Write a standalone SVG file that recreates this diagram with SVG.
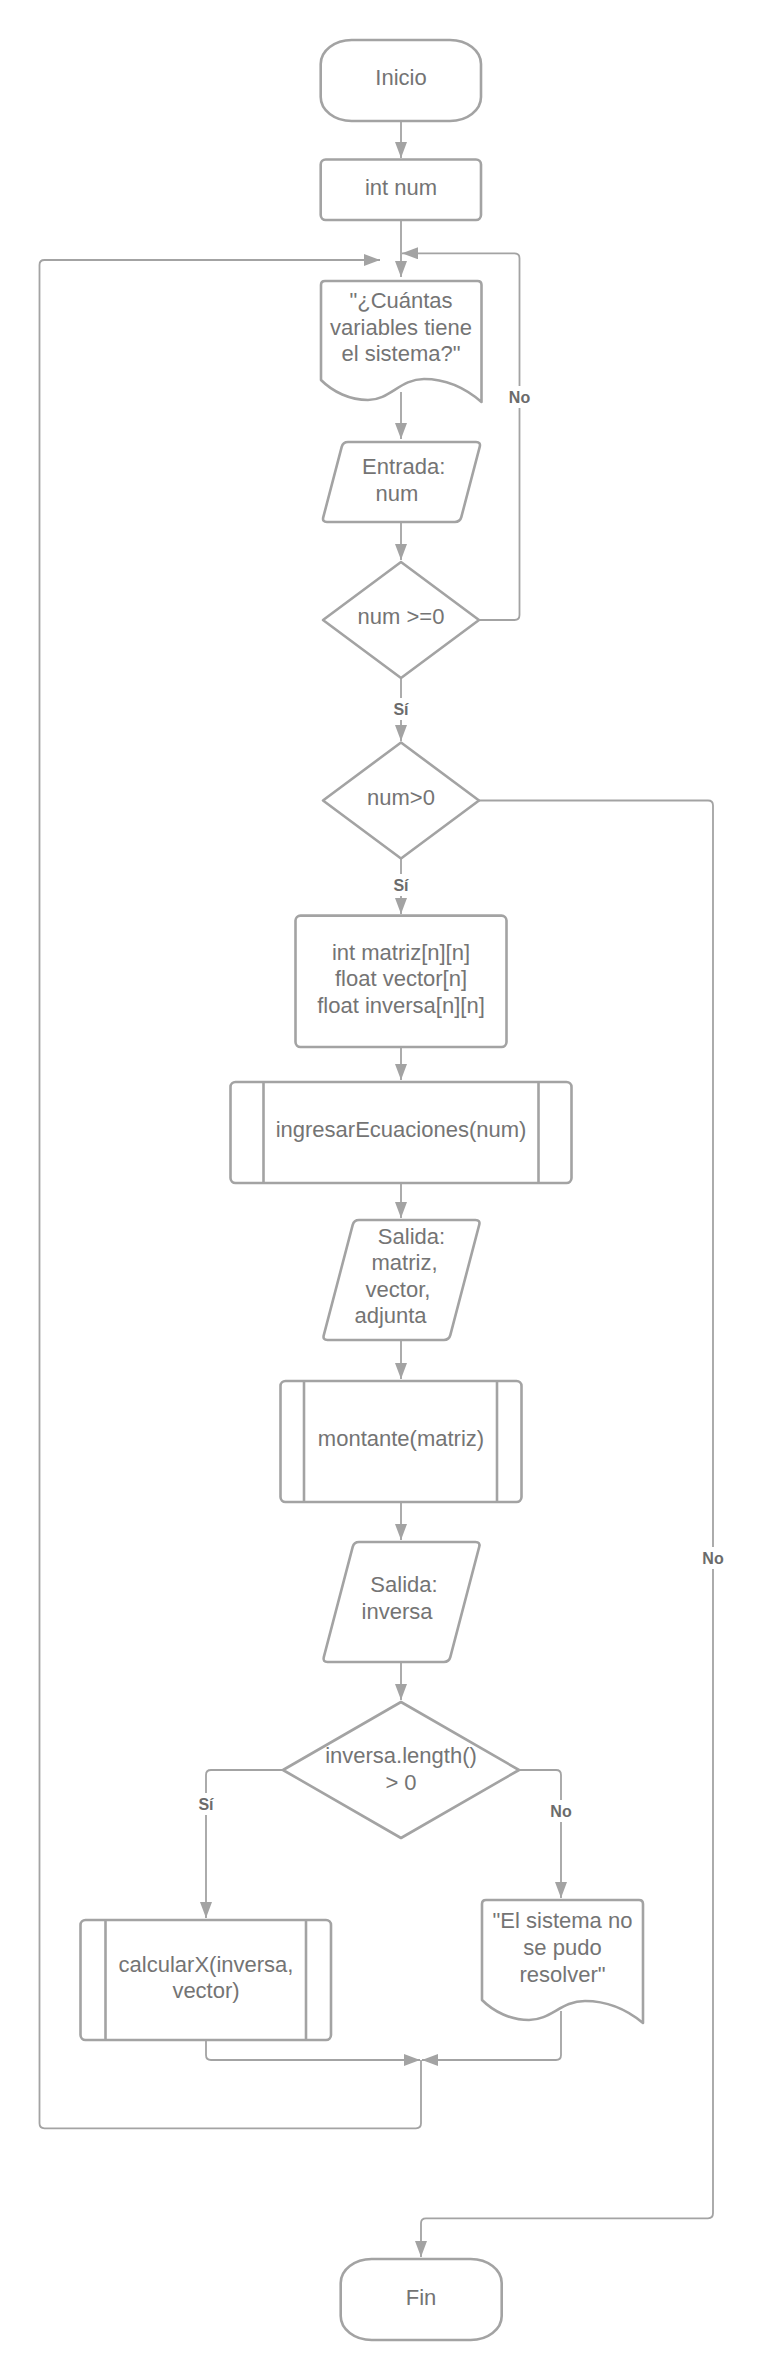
<svg xmlns="http://www.w3.org/2000/svg" width="763" height="2380" viewBox="0 0 763 2380">
<defs>
<style>
.s{fill:#ffffff;stroke:#a3a3a3;stroke-width:2.6;stroke-linejoin:round}
.c{fill:none;stroke:#a3a3a3;stroke-width:1.8}
.t{font-family:"Liberation Sans",Arial,sans-serif;font-size:22px;fill:#747474;text-anchor:middle}
.l{font-family:"Liberation Sans",Arial,sans-serif;font-size:16px;font-weight:bold;fill:#6b6b6b;text-anchor:middle}
</style>
<marker id="ah" markerUnits="userSpaceOnUse" markerWidth="16" markerHeight="12" refX="16" refY="6" orient="auto">
<path d="M0,0 L16,6 L0,12 Z" fill="#a3a3a3"/>
</marker>
</defs>
<rect width="763" height="2380" fill="#ffffff"/>
<g id="connectors">
<path class="c" d="M401,121 L401,158" marker-end="url(#ah)"/>
<path class="c" d="M401,220 L401,277" marker-end="url(#ah)"/>
<path class="c" d="M401,392 L401,439" marker-end="url(#ah)"/>
<path class="c" d="M401,522 L401,560" marker-end="url(#ah)"/>
<path class="c" d="M479,620 L514.5,620 Q519.5,620 519.5,615 L519.5,258.3 Q519.5,253.3 514.5,253.3 L402,253.3" marker-end="url(#ah)"/>
<path class="c" d="M401,678 L401,741" marker-end="url(#ah)"/>
<path class="c" d="M479,800.5 L708,800.5 Q713,800.5 713,805.5 L713,2213.3 Q713,2218.3 708,2218.3 L426,2218.3 Q421,2218.3 421,2223.3 L421,2257" marker-end="url(#ah)"/>
<path class="c" d="M401,858.5 L401,914" marker-end="url(#ah)"/>
<path class="c" d="M401,1047 L401,1080" marker-end="url(#ah)"/>
<path class="c" d="M401,1183 L401,1218" marker-end="url(#ah)"/>
<path class="c" d="M401,1340 L401,1379" marker-end="url(#ah)"/>
<path class="c" d="M401,1502 L401,1540" marker-end="url(#ah)"/>
<path class="c" d="M401,1662 L401,1700" marker-end="url(#ah)"/>
<path class="c" d="M283,1770 L211,1770 Q206,1770 206,1775 L206,1918" marker-end="url(#ah)"/>
<path class="c" d="M519,1770 L556,1770 Q561,1770 561,1775 L561,1898" marker-end="url(#ah)"/>
<path class="c" d="M206,2040 L206,2055 Q206,2060 211,2060 L420,2060" marker-end="url(#ah)"/>
<path class="c" d="M561,2011 L561,2055 Q561,2060 556,2060 L422,2060" marker-end="url(#ah)"/>
<path class="c" d="M421,2060 L421,2123.3 Q421,2128.3 416,2128.3 L44.5,2128.3 Q39.5,2128.3 39.5,2123.3 L39.5,265 Q39.5,260 44.5,260 L380,260" marker-end="url(#ah)"/>
<rect x="506" y="386" width="27" height="22" fill="#ffffff"/>
<text class="l" x="519.5" y="403">No</text>
<rect x="391" y="698" width="20" height="22" fill="#ffffff"/>
<text class="l" x="401" y="714.5">Sí</text>
<rect x="391" y="874" width="20" height="22" fill="#ffffff"/>
<text class="l" x="401" y="890.5">Sí</text>
<rect x="700" y="1547" width="27" height="22" fill="#ffffff"/>
<text class="l" x="713" y="1564">No</text>
<rect x="196" y="1793" width="20" height="22" fill="#ffffff"/>
<text class="l" x="206" y="1809.5">Sí</text>
<rect x="548" y="1800" width="27" height="22" fill="#ffffff"/>
<text class="l" x="561" y="1817">No</text>
</g>
<g id="inicio">
<rect class="s" x="320.7" y="40" width="160.3" height="81" rx="31" ry="24"/>
<text class="t" x="401" y="85">Inicio</text>
</g>
<g id="int-num">
<rect class="s" x="320.7" y="159.5" width="160.3" height="60.5" rx="5"/>
<text class="t" x="401" y="194.5">int num</text>
</g>
<g id="pregunta">
<path class="s" d="M321,380 L321,285 Q321,281 325,281 L477.5,281 Q481.5,281 481.5,285 L481.5,402 C463,386 445,379 424,379 C400,379 390,400 368,400 C350,400 333,392 321,380 Z"/>
<text class="t" x="401" y="308">"¿Cuántas</text>
<text class="t" x="401" y="334.5">variables tiene</text>
<text class="t" x="401" y="361">el sistema?"</text>
</g>
<g id="entrada">
<path class="s" d="M348,442 L476,442 Q481,442 479.7,446.8 L461.3,517.2 Q460,522 455,522 L327,522 Q322,522 323.3,517.2 L341.7,446.8 Q343,442 348,442 Z"/>
<text class="t" x="403.7" y="474">Entrada:</text>
<text class="t" x="397" y="500.5">num</text>
</g>
<g id="decision-1">
<path class="s" d="M401,562 L479,620 L401,678 L323,620 Z"/>
<text class="t" x="401" y="624">num &gt;=0</text>
</g>
<g id="decision-2">
<path class="s" d="M401,742.5 L479,800.5 L401,858.5 L323,800.5 Z"/>
<text class="t" x="401" y="805">num&gt;0</text>
</g>
<g id="declaraciones">
<rect class="s" x="295.5" y="915.6" width="211" height="131.4" rx="5"/>
<text class="t" x="401" y="959.5">int matriz[n][n]</text>
<text class="t" x="401" y="986">float vector[n]</text>
<text class="t" x="401" y="1012.5">float inversa[n][n]</text>
</g>
<g id="ingresar">
<rect class="s" x="230.5" y="1082" width="341" height="101" rx="5"/>
<line class="s" x1="263.5" y1="1082" x2="263.5" y2="1183"/>
<line class="s" x1="538.5" y1="1082" x2="538.5" y2="1183"/>
<text class="t" x="401" y="1137">ingresarEcuaciones(num)</text>
</g>
<g id="salida-1">
<path class="s" d="M359,1220 L475.5,1220 Q480.5,1220 479.2,1224.8 L450.3,1335.2 Q449,1340 444,1340 L327.5,1340 Q322.5,1340 323.8,1335.2 L352.7,1224.8 Q354,1220 359,1220 Z"/>
<text class="t" x="411.5" y="1244">Salida:</text>
<text class="t" x="404.5" y="1270">matriz,</text>
<text class="t" x="398" y="1297">vector,</text>
<text class="t" x="390.5" y="1323">adjunta</text>
</g>
<g id="montante">
<rect class="s" x="280.5" y="1381" width="241" height="121" rx="5"/>
<line class="s" x1="304" y1="1381" x2="304" y2="1502"/>
<line class="s" x1="497" y1="1381" x2="497" y2="1502"/>
<text class="t" x="401" y="1446">montante(matriz)</text>
</g>
<g id="salida-2">
<path class="s" d="M359,1542 L475.5,1542 Q480.5,1542 479.2,1546.8 L450.3,1657.2 Q449,1662 444,1662 L327.5,1662 Q322.5,1662 323.8,1657.2 L352.7,1546.8 Q354,1542 359,1542 Z"/>
<text class="t" x="404" y="1592">Salida:</text>
<text class="t" x="397" y="1619">inversa</text>
</g>
<g id="decision-3">
<path class="s" d="M401,1702 L519,1770 L401,1838 L283,1770 Z"/>
<text class="t" x="401" y="1762.5">inversa.length()</text>
<text class="t" x="401" y="1789.5">&gt; 0</text>
</g>
<g id="calcular">
<rect class="s" x="80.5" y="1920" width="250.5" height="120" rx="5"/>
<line class="s" x1="105.5" y1="1920" x2="105.5" y2="2040"/>
<line class="s" x1="306" y1="1920" x2="306" y2="2040"/>
<text class="t" x="206" y="1971.5">calcularX(inversa,</text>
<text class="t" x="206" y="1998">vector)</text>
</g>
<g id="mensaje-error">
<path class="s" d="M482,2000 L482,1904 Q482,1900 486,1900 L639,1900 Q643,1900 643,1904 L643,2023 C625,2008 607,2001 585,2001 C561,2001 551,2020 529,2020 C511,2020 494,2012 482,2000 Z"/>
<text class="t" x="562.5" y="1928.3">"El sistema no</text>
<text class="t" x="562.5" y="1955">se pudo</text>
<text class="t" x="562.5" y="1981.7">resolver"</text>
</g>
<g id="fin">
<rect class="s" x="340.7" y="2259" width="161" height="81" rx="31" ry="24"/>
<text class="t" x="421" y="2305">Fin</text>
</g>
</svg>
